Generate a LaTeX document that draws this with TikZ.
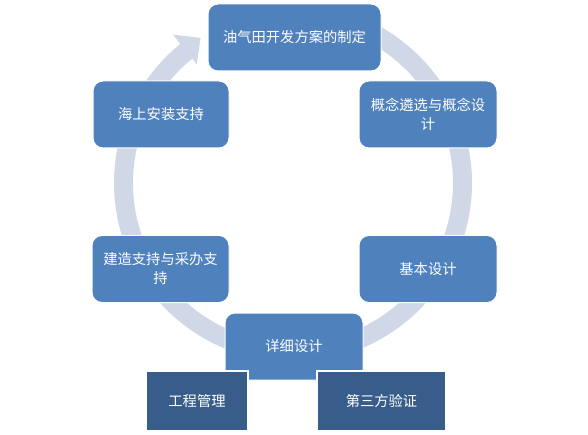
\documentclass[tikz,border=0pt]{standalone}
\usepackage{fontspec}
\newfontfamily\cjk{Noto Sans CJK SC}
\definecolor{boxblue}{HTML}{4F81BD}
\definecolor{darkblue}{HTML}{385D8A}
\definecolor{ringcol}{HTML}{D0D8E8}
\begin{document}
\begin{tikzpicture}[x=1pt,y=-1pt,
  stagebox/.style={draw=white, line width=1pt, fill=boxblue, rounded corners=10pt,
    text=white, font=\cjk\fontsize{14.3}{19}\selectfont, align=center,
    inner sep=0pt, minimum height=67pt},
  sidebox/.style={draw=white, line width=2pt, fill=darkblue,
    text=white, font=\cjk\fontsize{14.3}{19}\selectfont, align=center,
    inner sep=0pt, minimum height=60pt}]
\useasboundingbox (0,0) rectangle (588,435);
% ring arrow
\coordinate (c) at (293,183);
\fill[ringcol, shift={(c)}] (-90:179) arc[start angle=-90, end angle=231, radius=179]
  -- (231:191) -- (237.5:172) -- (231:153) -- (231:160)
  arc[start angle=231, end angle=-90, radius=160] -- cycle;
% stages
\node[stagebox, minimum width=173pt] (s1) at (294.5,37.5) {油气田开发方案的制定};
\node[stagebox, minimum width=138pt] (s2) at (428,114.5) {概念遴选与概念设\\计};
\node[stagebox, minimum width=138pt] (s3) at (428,269) {基本设计};
\node[stagebox, minimum width=138pt, minimum height=67pt] (s4) at (294,346.5) {详细设计};
\node[stagebox, minimum width=137pt] (s5) at (160.5,269) {建造支持与采办支\\持};
\node[stagebox, minimum width=136pt] (s6) at (161,114.5) {海上安装支持};
% side boxes
\node[sidebox, minimum width=102pt] (p1) at (197,401) {工程管理};
\node[sidebox, minimum width=129pt] (p2) at (381.5,401) {第三方验证};
\end{tikzpicture}
\end{document}
